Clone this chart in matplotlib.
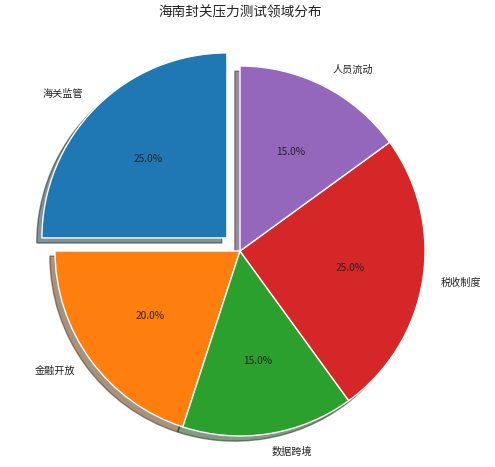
import matplotlib
matplotlib.use("Agg")
import matplotlib.pyplot as plt

plt.rcParams['font.family'] = ['Noto Sans CJK SC', 'DejaVu Sans']

labels = ['海关监管', '金融开放', '数据跨境', '税收制度', '人员流动']
sizes = [25, 20, 15, 25, 15]
explode = [0.1, 0, 0, 0, 0]
colors = ['#1f77b4', '#ff7f0e', '#2ca02c', '#d62728', '#9467bd']

fig = plt.figure(figsize=(4.95, 4.67), dpi=100)
ax = fig.add_axes([0, 0, 1, 1])
wedges, texts, autotexts = ax.pie(
    sizes, labels=labels, explode=explode, colors=colors,
    autopct='%1.1f%%', startangle=90, shadow=True,
    wedgeprops={'edgecolor': 'white', 'linewidth': 1},
    textprops={'fontsize': 7.3, 'color': '#222222'})

R = 185.0
cx, cy = 240.0, 251.0
W, H = 495.0, 467.0
ax.set_aspect('auto')
ax.set_xlim(-cx / R, (W - cx) / R)
ax.set_ylim(-(H - cy) / R, cy / R)
ax.axis('off')

fig.text(240 / W, 1 - 12 / H, '海南封关压力测试领域分布', ha='center', va='center',
         fontsize=9.8, color='#222222')

fig.savefig('out.png', dpi=100)
